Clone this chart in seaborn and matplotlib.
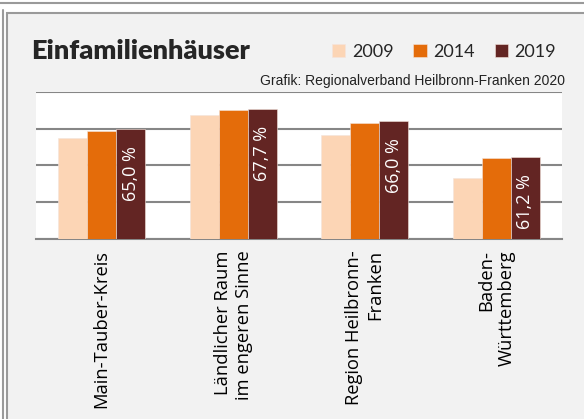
import pandas as pd
import matplotlib
matplotlib.use("Agg")
import matplotlib.pyplot as plt
import seaborn as sns
from matplotlib.patches import Rectangle
from matplotlib.lines import Line2D

# Daten (Anteil Einfamilienhäuser in %)
regionen = ["Main-Tauber-Kreis", "Ländlicher Raum\nim engeren Sinne",
            "Region Heilbronn-\nFranken", "Baden-\nWürttemberg"]
jahre = ["2009", "2014", "2019"]
werte_2009 = [63.8, 66.9, 64.2, 58.3]
werte_2014 = [64.7, 67.5, 65.8, 61.0]
werte_2019 = [65.0, 67.7, 66.0, 61.2]
farben = ["#fcd5b5", "#e46c0a", "#632523"]

df = pd.DataFrame({
    "Region": regionen * 3,
    "Jahr": [j for j in jahre for _ in regionen],
    "Wert": werte_2009 + werte_2014 + werte_2019,
})

sns.set_style("white")
plt.rcParams["font.family"] = ["Open Sans", "DejaVu Sans"]

W, H = 584, 419
fig = plt.figure(figsize=(W / 100, H / 100), dpi=100)
fig.patch.set_facecolor("white")

# Rahmen wie im Original
fig.add_artist(Rectangle((7 / W, -0.1), 1.1, 1 - 13 / H + 0.1, transform=fig.transFigure,
                         facecolor="#f2f2f2", edgecolor="#9a9a9a", lw=1.5, zorder=0))
fig.add_artist(Line2D([0, 1], [1 - 3.5 / H] * 2, transform=fig.transFigure, color="#9a9a9a", lw=1.5))
fig.add_artist(Line2D([2.5 / W] * 2, [0, 1 - 10 / H], transform=fig.transFigure, color="#9a9a9a", lw=1.5))

ax = fig.add_axes([36 / W, 1 - 239 / H, 526 / W, 147 / H])
ax.set_facecolor("white")

sns.barplot(data=df, x="Region", y="Wert", hue="Jahr", palette=farben, saturation=1,
            width=0.66, ax=ax, zorder=3, edgecolor="#f4e4dc", linewidth=0.4)

ax.set_ylim(50, 70)
ax.set_xlim(-0.5, 3.5)
ax.set_yticks([50, 55, 60, 65, 70])
ax.set_yticklabels([])
ax.tick_params(axis="y", length=0)
ax.grid(axis="y", color="#868686", lw=1.5, zorder=0)
for s in ["left", "right", "top"]:
    ax.spines[s].set_visible(False)
ax.spines["bottom"].set_color("#868686")
ax.spines["bottom"].set_linewidth(1.5)
ax.set_xlabel("")
ax.set_ylabel("")

# Trennstriche zwischen den Gruppen, Beschriftungen in der Mitte
ax.set_xticks([-0.5, 0.5, 1.5, 2.5, 3.5])
ax.set_xticklabels([])
ax.tick_params(axis="x", which="major", length=6, width=1.5, color="#868686")
ax.set_xticks([0, 1, 2, 3], minor=True)
ax.set_xticklabels(regionen, minor=True, fontsize=13.2, color="black")
ax.tick_params(axis="x", which="minor", length=0, pad=8)
for lbl in ax.get_xticklabels(minor=True):
    lbl.set_rotation(90)
    lbl.set_va("top")
    lbl.set_ha("center")
    lbl.set_multialignment("right")

# Werte in den 2019-Balken
for patch, v in zip(ax.containers[2], werte_2019):
    ax.annotate(f"{v:.1f} %".replace(".", ","),
                (patch.get_x() + patch.get_width() / 2, patch.get_height()),
                xytext=(0, -17), textcoords="offset pixels", rotation=90,
                ha="center", va="top", color="white", fontsize=13, zorder=5)

# Legende oben rechts
handles, labels = ax.get_legend_handles_labels()
ax.legend(handles, labels, ncol=3, loc="center", bbox_to_anchor=(444 / W, 1 - 52 / H),
          bbox_transform=fig.transFigure, frameon=False, handlelength=0.75,
          handleheight=0.75, handletextpad=0.35, columnspacing=1.1,
          prop={"family": "Lato", "size": 13})

fig.text(31 / W, 1 - 51 / H, "Einfamilienhäuser", fontsize=19.5, fontweight="heavy",
         family="Lato", va="center", ha="left")
fig.text(565 / W, 1 - 81 / H, "Grafik: Regionalverband Heilbronn-Franken 2020",
         fontsize=10, family="Liberation Sans", va="center", ha="right", color="#222222")

fig.savefig("out.png", dpi=100)
